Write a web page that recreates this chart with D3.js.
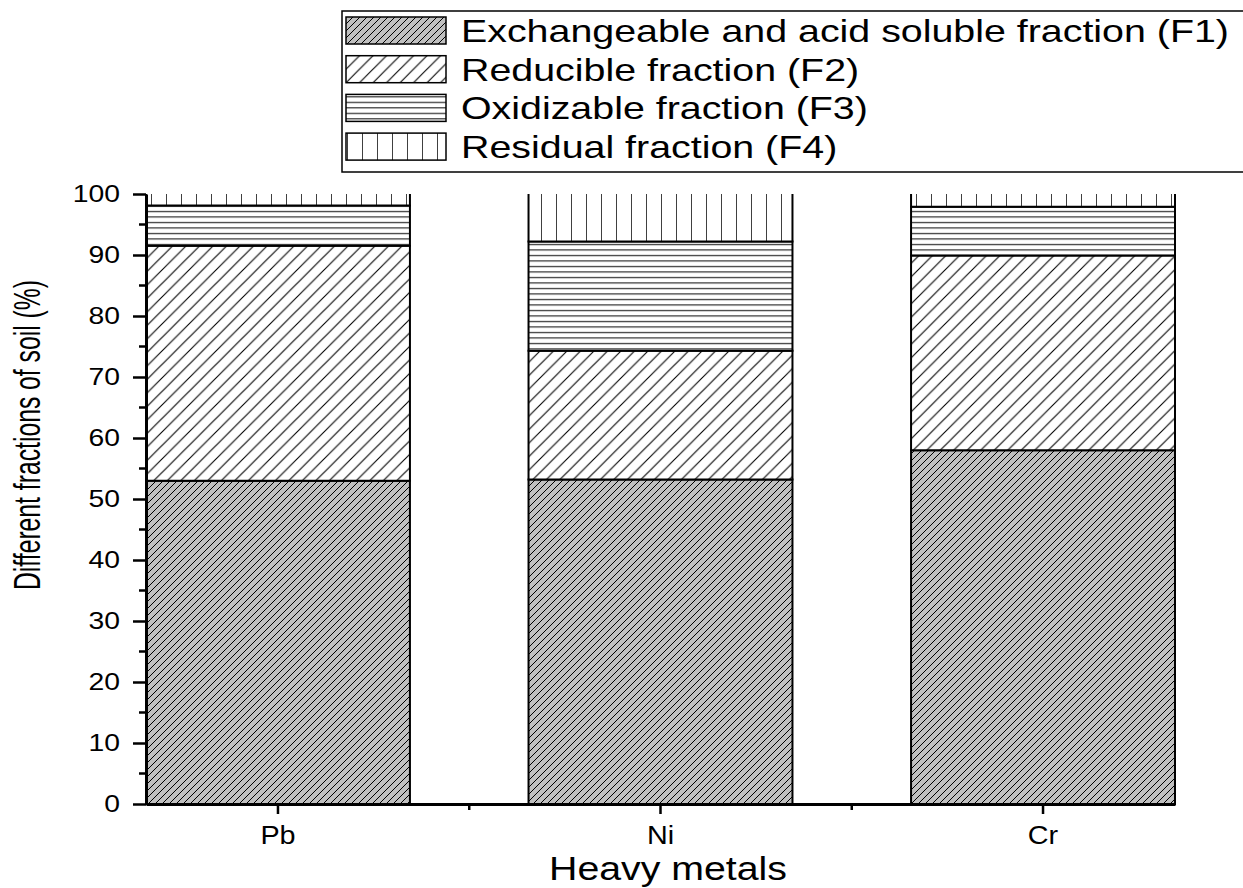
<!DOCTYPE html>
<html>
<head>
<meta charset="utf-8">
<script src="https://cdn.jsdelivr.net/npm/d3@7"></script>
<style>
  body { margin: 0; background: #fff; }
  text { font-family: "Liberation Sans", Arial, sans-serif; fill: #000; }
</style>
</head>
<body>
<svg width="1243" height="888"></svg>
<script>
// data (percent of total)
const metals = ["Pb", "Ni", "Cr"];
const f1 = [53.0, 53.2, 58.0];
const f2 = [38.5, 21.1, 31.9];
const f3 = [6.6, 17.9, 8.0];
const f4 = [1.9, 7.8, 2.1];
const fractionKeys = ["F1", "F2", "F3", "F4"];
const fractionNames = [
  "Exchangeable and acid soluble fraction (F1)",
  "Reducible fraction (F2)",
  "Oxidizable fraction (F3)",
  "Residual fraction (F4)"
];
const yTicks = [0, 10, 20, 30, 40, 50, 60, 70, 80, 90, 100];

const svg = d3.select("svg");
const plotLeft = 146, plotRight = 1175, plotTop = 194, plotBottom = 804;

// stretch text horizontally (origin export looks widened)
function stretch(sel, k) {
  sel.each(function () {
    const w = this.getComputedTextLength();
    d3.select(this).attr("textLength", w * k).attr("lengthAdjust", "spacingAndGlyphs");
  });
}

// hatch patterns
const defs = svg.append("defs");
function diag(id, step, bg, sw) {
  const p = defs.append("pattern").attr("id", id)
    .attr("patternUnits", "userSpaceOnUse")
    .attr("width", step).attr("height", step);
  p.append("rect").attr("width", step).attr("height", step).attr("fill", bg);
  p.append("path")
    .attr("d", `M0,${step} L${step},0 M${-step / 2},${step / 2} L${step / 2},${-step / 2} M${step / 2},${step * 1.5} L${step * 1.5},${step / 2}`)
    .attr("stroke", "#000").attr("stroke-width", sw);
}
diag("pF1", 7, "#c0c0c0", 1);
diag("pF2", 13.5, "#fff", 1.1);
const h = defs.append("pattern").attr("id", "pF3")
  .attr("patternUnits", "userSpaceOnUse").attr("width", 10).attr("height", 5.5);
h.append("rect").attr("width", 10).attr("height", 5.5).attr("fill", "#fff");
h.append("line").attr("x1", 0).attr("x2", 10).attr("y1", 2.5).attr("y2", 2.5)
  .attr("stroke", "#000").attr("stroke-width", 1);
const v = defs.append("pattern").attr("id", "pF4")
  .attr("patternUnits", "userSpaceOnUse").attr("width", 15).attr("height", 10)
  .attr("x", 1);
v.append("rect").attr("width", 15).attr("height", 10).attr("fill", "#fff");
v.append("line").attr("x1", 0).attr("x2", 0).attr("y1", 0).attr("y2", 10)
  .attr("stroke", "#000").attr("stroke-width", 1.5);

// scales
const x = d3.scaleBand().domain(metals).range([plotLeft, plotRight])
  .paddingInner(0.31).paddingOuter(0);
const y = d3.scaleLinear().domain([0, 100]).range([plotBottom, plotTop]);

const table = metals.map((m, i) => ({ metal: m, F1: f1[i], F2: f2[i], F3: f3[i], F4: f4[i] }));
const series = d3.stack().keys(fractionKeys)(table);

// bars: fill first, outlines after (top segment has no top edge)
const barG = svg.append("g").selectAll("g")
  .data(series)
  .join("g");
barG.selectAll("rect")
  .data(d => d.map(s => Object.assign(s, { key: d.key })))
  .join("rect")
  .attr("x", d => x(d.data.metal))
  .attr("width", x.bandwidth())
  .attr("y", d => y(d[1]))
  .attr("height", d => y(d[0]) - y(d[1]))
  .attr("fill", d => `url(#p${d.key})`);
barG.selectAll("path")
  .data(d => d)
  .join("path")
  .attr("d", d => {
    const x0 = x(d.data.metal), x1 = x0 + x.bandwidth();
    const yb = y(d[0]), yt = y(d[1]);
    return d.key === "F4"
      ? `M${x0},${yt}V${yb}H${x1}V${yt}`
      : `M${x0},${yt}V${yb}H${x1}V${yt}Z`;
  })
  .attr("fill", "none")
  .attr("stroke", "#000")
  .attr("stroke-width", 2);

// y axis
const yAxis = svg.append("g").attr("transform", `translate(${plotLeft},0)`)
  .call(d3.axisLeft(y).tickValues(yTicks).tickSize(13).tickPadding(13).tickSizeOuter(0));
yAxis.select(".domain").attr("stroke-width", 3);
yAxis.selectAll(".tick line").attr("stroke-width", 2.5);
yAxis.selectAll(".tick text").attr("font-size", 23).call(stretch, 1.23);
svg.append("g").selectAll("line")
  .data(d3.range(5, 100, 10))
  .join("line")
  .attr("x1", plotLeft - 7).attr("x2", plotLeft)
  .attr("y1", d => y(d)).attr("y2", d => y(d))
  .attr("stroke", "#000").attr("stroke-width", 2.5);

// x axis
const xAxis = svg.append("g").attr("transform", `translate(0,${plotBottom})`)
  .call(d3.axisBottom(x).tickSize(10).tickPadding(12).tickSizeOuter(0));
xAxis.select(".domain").attr("stroke-width", 3);
xAxis.selectAll(".tick line").attr("stroke-width", 2.5);
xAxis.selectAll(".tick text").attr("font-size", 25).call(stretch, 1.15);
const mids = metals.slice(1).map((m, i) =>
  (x(metals[i]) + x.bandwidth() / 2 + x(m) + x.bandwidth() / 2) / 2);
svg.append("g").selectAll("line")
  .data(mids)
  .join("line")
  .attr("x1", d => d).attr("x2", d => d)
  .attr("y1", plotBottom).attr("y2", plotBottom + 6)
  .attr("stroke", "#000").attr("stroke-width", 2.5);

// axis titles
svg.append("text")
  .attr("x", 668).attr("y", 880)
  .attr("text-anchor", "middle").attr("font-size", 33)
  .text("Heavy metals").call(stretch, 1.19);
const yTitle = svg.append("text")
  .attr("transform", "translate(40,435) rotate(-90)")
  .attr("text-anchor", "middle").attr("font-size", 36)
  .style("font-family", "'Liberation Sans Narrow', 'Liberation Sans', Arial, sans-serif")
  .text("Different fractions of soil (%)");
yTitle.call(stretch, 310 / yTitle.node().getComputedTextLength());

// legend
const lg = svg.append("g");
lg.append("rect").attr("x", 342).attr("y", 11).attr("width", 960).attr("height", 161)
  .attr("fill", "#fff").attr("stroke", "#000").attr("stroke-width", 1.5);
const rows = lg.selectAll("g.row")
  .data(fractionKeys)
  .join("g").attr("class", "row")
  .attr("transform", (d, i) => `translate(346,${17 + i * 38.7})`);
rows.append("rect")
  .attr("width", 100).attr("height", 27)
  .attr("fill", d => `url(#p${d})`)
  .attr("stroke", "#000").attr("stroke-width", 1.5);
rows.append("text")
  .attr("x", 115).attr("y", 13.5 + 11.5)
  .attr("font-size", 32)
  .text((d, i) => fractionNames[i])
  .call(stretch, 1.23);
</script>
</body>
</html>
